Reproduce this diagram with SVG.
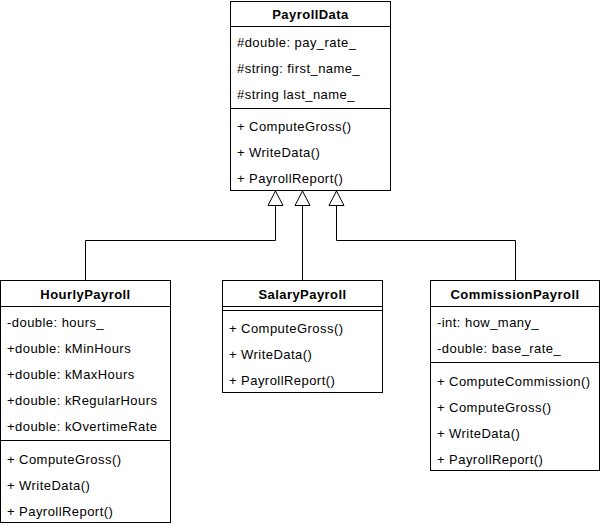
<svg xmlns="http://www.w3.org/2000/svg" width="601" height="526" viewBox="0 0 601 526">
  <style>
    .box { fill: #ffffff; stroke: #000000; stroke-width: 1; }
    .ln { fill: none; stroke: #000000; stroke-width: 1; }
    text { font-family: "Liberation Sans", Arial, Helvetica, sans-serif; font-size: 13px; letter-spacing: 0.45px; fill: #000000; }
    .title { font-weight: bold; text-anchor: middle; }
  </style>
  <defs>
    <marker id="inh" markerUnits="userSpaceOnUse" orient="auto" overflow="visible" refX="0" refY="0" markerWidth="16" markerHeight="16">
      <path d="M-14.5,-7.5 L0,0 L-14.5,7.5 Z" fill="#ffffff" stroke="#000000" stroke-width="1"/>
    </marker>
  </defs>
  <rect width="601" height="526" fill="#ffffff"/>

  <g id="connectors">
    <path class="ln" d="M85.5 280.5 V240.5 H275.5 V191" marker-end="url(#inh)"/>
    <path class="ln" d="M302.5 280.5 V191" marker-end="url(#inh)"/>
    <path class="ln" d="M515.5 280.5 V240.5 H336.5 V191" marker-end="url(#inh)"/>
  </g>

  <g id="PayrollData">
    <rect class="box" x="230.5" y="1.5" width="160" height="189"/>
    <line class="ln" x1="230.5" y1="26.5" x2="390.5" y2="26.5"/>
    <line class="ln" x1="230.5" y1="108.5" x2="390.5" y2="108.5"/>
    <text class="title" x="310.5" y="19">PayrollData</text>
    <text x="237" y="47">#double: pay_rate_</text>
    <text x="237" y="73">#string: first_name_</text>
    <text x="237" y="99">#string last_name_</text>
    <text x="237" y="131">+ ComputeGross()</text>
    <text x="237" y="157">+ WriteData()</text>
    <text x="237" y="183">+ PayrollReport()</text>
  </g>

  <g id="HourlyPayroll">
    <rect class="box" x="0.5" y="280.5" width="170" height="242"/>
    <line class="ln" x1="0.5" y1="306.5" x2="170.5" y2="306.5"/>
    <line class="ln" x1="0.5" y1="440.5" x2="170.5" y2="440.5"/>
    <text class="title" x="85.5" y="299">HourlyPayroll</text>
    <text x="7" y="327">-double: hours_</text>
    <text x="7" y="353">+double: kMinHours</text>
    <text x="7" y="379">+double: kMaxHours</text>
    <text x="7" y="405">+double: kRegularHours</text>
    <text x="7" y="431">+double: kOvertimeRate</text>
    <text x="7" y="464">+ ComputeGross()</text>
    <text x="7" y="490">+ WriteData()</text>
    <text x="7" y="516">+ PayrollReport()</text>
  </g>

  <g id="SalaryPayroll">
    <rect class="box" x="222.5" y="280.5" width="160" height="112"/>
    <line class="ln" x1="222.5" y1="306.5" x2="382.5" y2="306.5"/>
    <line class="ln" x1="222.5" y1="310.5" x2="382.5" y2="310.5"/>
    <text class="title" x="302.5" y="299">SalaryPayroll</text>
    <text x="229" y="333">+ ComputeGross()</text>
    <text x="229" y="359">+ WriteData()</text>
    <text x="229" y="385">+ PayrollReport()</text>
  </g>

  <g id="CommissionPayroll">
    <rect class="box" x="430.5" y="280.5" width="169" height="190"/>
    <line class="ln" x1="430.5" y1="306.5" x2="599.5" y2="306.5"/>
    <line class="ln" x1="430.5" y1="362.5" x2="599.5" y2="362.5"/>
    <text class="title" x="515" y="299">CommissionPayroll</text>
    <text x="437" y="327">-int: how_many_</text>
    <text x="437" y="353">-double: base_rate_</text>
    <text x="437" y="386">+ ComputeCommission()</text>
    <text x="437" y="412">+ ComputeGross()</text>
    <text x="437" y="438">+ WriteData()</text>
    <text x="437" y="464">+ PayrollReport()</text>
  </g>
</svg>
